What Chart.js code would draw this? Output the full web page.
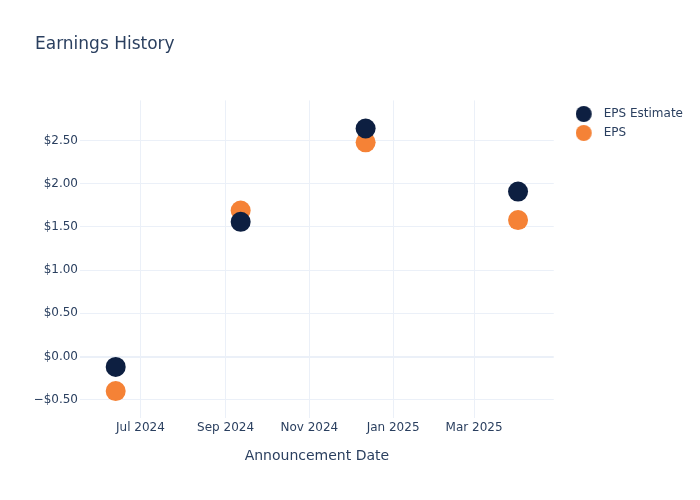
<!DOCTYPE html>
<html>
<head>
<meta charset="utf-8">
<title>Earnings History</title>
<script src="https://cdn.jsdelivr.net/npm/chart.js@4/dist/chart.umd.min.js"></script>
<style>
  html, body { margin: 0; padding: 0; background: #fff; }
  #wrap { width: 700px; height: 500px; }
</style>
</head>
<body>
<div id="wrap"><canvas id="myChart" width="700" height="500"></canvas></div>
<script>
// announcement dates and values
const announceDates = ['2024-06-13', '2024-09-12', '2024-12-12', '2025-04-02'];
const epsEstimate = [-0.12, 1.56, 2.64, 1.91];
const epsActual = [-0.40, 1.69, 2.48, 1.58];

const xTickDates = ['2024-07-01', '2024-09-01', '2024-11-01', '2025-01-01', '2025-03-01'];
const xTickLabels = ['Jul 2024', 'Sep 2024', 'Nov 2024', 'Jan 2025', 'Mar 2025'];
const yTickValues = [-0.5, 0, 0.5, 1, 1.5, 2, 2.5];

const toTime = function (d) { return Date.parse(d + 'T00:00:00Z'); };
const DAY = 86400000;

const textColor = '#2a3f5f';
const gridColor = '#ebf0f8';
const estColor = '#0d1f41';
const epsColor = '#f58236';
Chart.defaults.font.family = '"DejaVu Sans", Verdana, sans-serif';
Chart.defaults.color = textColor;

function points(values) {
    return announceDates.map(function (d, i) { return { x: toTime(d), y: values[i] }; });
}

function money(v) {
    const s = '$' + Math.abs(v).toFixed(2);
    return v < 0 ? '\u2212' + s : s;
}

// legend marker: a dot sitting left of centre so the text gets plotly's gap
function legendDot(color) {
    const c = document.createElement('canvas');
    c.width = 33;
    c.height = 16;
    const g = c.getContext('2d');
    g.fillStyle = color;
    g.beginPath();
    g.arc(8, 8, 8, 0, Math.PI * 2);
    g.fill();
    return c;
}
const legendDots = [legendDot(estColor), legendDot(epsColor)];

// move the legend next to the top of the plot, plotly style
const legendShift = {
    id: 'legendShift',
    afterLayout(chart) {
        const lg = chart.legend;
        lg.left += 26;
        lg.right += 26;
        lg.top += 101;
        lg.bottom += 101;
        // no clipping, the dots hang a little left of the box
        lg.draw = function () { if (this.options.display) this._draw(); };
    }
};

const data = {
    datasets: [{
        label: 'EPS Estimate',
        data: points(epsEstimate),
        backgroundColor: estColor,
        borderColor: estColor,
        borderWidth: 0,
        pointRadius: 10,
        pointHoverRadius: 10
    }, {
        label: 'EPS',
        data: points(epsActual),
        backgroundColor: epsColor,
        borderColor: epsColor,
        borderWidth: 0,
        pointRadius: 10,
        pointHoverRadius: 10
    }]
};

const config = {
    type: 'scatter',
    data: data,
    plugins: [legendShift],
    options: {
        responsive: false,
        animation: false,
        layout: {
            padding: { left: 35, right: 33, top: 0, bottom: 0 }
        },
        scales: {
            x: {
                type: 'linear',
                min: toTime('2024-06-13') - 26 * DAY,
                max: toTime('2025-04-02') + 26 * DAY,
                border: { display: false },
                grid: { color: gridColor, lineWidth: 1, drawTicks: false },
                afterBuildTicks: function (scale) {
                    scale.ticks = xTickDates.map(function (d) { return { value: toTime(d) }; });
                },
                afterFit: function (scale) { scale.height = 82; },
                ticks: {
                    padding: 3,
                    maxRotation: 0,
                    autoSkip: false,
                    font: { size: 12 },
                    callback: function (value, index) { return xTickLabels[index]; }
                },
                title: {
                    display: true,
                    text: 'Announcement Date',
                    font: { size: 14 },
                    padding: { top: 0, bottom: 35 }
                }
            },
            y: {
                min: -0.712,
                max: 2.966,
                border: { display: false },
                grid: {
                    color: gridColor,
                    drawTicks: false,
                    lineWidth: function (ctx) { return ctx.tick && ctx.tick.value === 0 ? 2 : 1; }
                },
                afterBuildTicks: function (scale) {
                    scale.ticks = yTickValues.map(function (v) { return { value: v }; });
                },
                afterFit: function (scale) { scale.width = 45; },
                ticks: {
                    padding: 2,
                    font: { size: 12 },
                    callback: function (value) { return money(value); }
                }
            }
        },
        plugins: {
            title: {
                display: true,
                text: 'Earnings History',
                align: 'start',
                color: textColor,
                font: { size: 17, weight: 'normal' },
                padding: { top: 34, bottom: 46 }
            },
            legend: {
                position: 'right',
                align: 'start',
                labels: {
                    usePointStyle: true,
                    boxWidth: 11,
                    boxHeight: 11,
                    padding: 7,
                    color: textColor,
                    font: { size: 12 },
                    generateLabels: function (chart) {
                        const items = Chart.defaults.plugins.legend.labels.generateLabels(chart);
                        items.forEach(function (item, i) { item.pointStyle = legendDots[i]; });
                        return items;
                    }
                }
            },
            tooltip: { enabled: false }
        }
    }
};

new Chart(document.getElementById('myChart'), config);
</script>
</body>
</html>
